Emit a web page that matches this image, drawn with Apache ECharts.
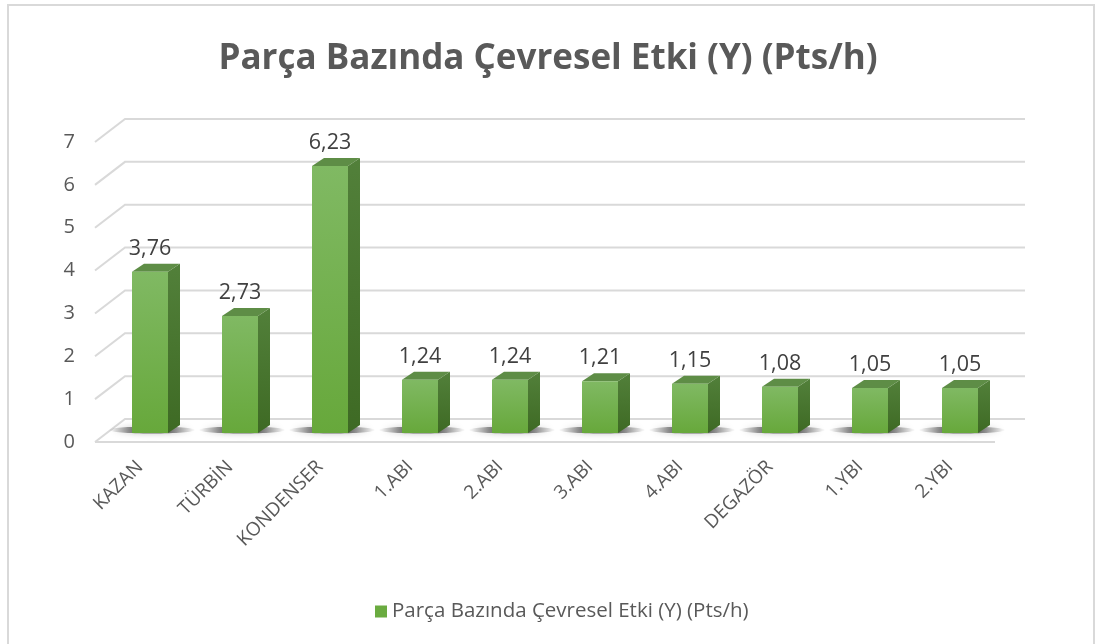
<!DOCTYPE html>
<html>
<head>
<meta charset="utf-8">
<script src="https://cdn.jsdelivr.net/npm/echarts@6/dist/echarts.min.js"></script>
<style>
  html, body { margin: 0; padding: 0; background: #fff; }
  #chart { width: 1096px; height: 644px; }
</style>
</head>
<body>
<div id="chart"></div>
<script>
const categories = ["KAZAN", "TÜRBİN", "KONDENSER", "1.ABI", "2.ABI", "3.ABI", "4.ABI", "DEGAZÖR", "1.YBI", "2.YBI"];
const values = [3.76, 2.73, 6.23, 1.24, 1.24, 1.21, 1.15, 1.08, 1.05, 1.05];
const yTicks = [0, 1, 2, 3, 4, 5, 6, 7];
const seriesName = "Parça Bazında Çevresel Etki (Y) (Pts/h)";

const FONT = "'Open Sans', 'Noto Sans', sans-serif";

// perspective offsets (pixels) from the front plane
const WALL_DX = 30, WALL_DY = -23;   // back wall
const BAR_DX = 10, BAR_DY = -9;      // bar front face
const SIDE_DX = 12, SIDE_DY = -8;    // bar depth

const chart = echarts.init(document.getElementById("chart"));

function fmt(v) {
  return v.toFixed(2).replace(".", ",");
}

const option = {
  animation: false,
  backgroundColor: "#fff",
  title: {
    text: "Parça Bazında Çevresel Etki (Y) (Pts/h)",
    left: "center",
    top: 37,
    textStyle: {
      fontFamily: FONT,
      fontSize: 35,
      fontWeight: "bold",
      color: "#595959",
    },
  },
  legend: {
    top: 596,
    left: 370,
    icon: "rect",
    itemWidth: 12,
    itemHeight: 12,
    itemGap: 8,
    textStyle: {
      fontFamily: FONT,
      fontSize: 20.5,
      color: "#595959",
    },
    data: [seriesName],
  },
  graphic: [
    {
      type: "rect",
      shape: { x: 8, y: 5, width: 1086, height: 660 },
      style: { fill: "none", stroke: "#d9d9d9", lineWidth: 2 },
      silent: true,
    },
  ],
  grid: {
    left: 95,
    right: 101,
    top: 142,
    bottom: 202,
    containLabel: false,
  },
  xAxis: {
    type: "category",
    data: categories,
    axisLine: { show: false },
    axisTick: { show: false },
    axisLabel: {
      rotate: 45,
      margin: 22,
      interval: 0,
      fontFamily: FONT,
      fontSize: 19,
      color: "#595959",
    },
  },
  yAxis: {
    type: "value",
    min: 0,
    max: 7,
    interval: 1,
    axisLine: { show: false },
    axisTick: { show: false },
    splitLine: { show: false },
    axisLabel: {
      margin: 20,
      fontFamily: FONT,
      fontSize: 20,
      color: "#595959",
    },
  },
  series: [
    {
      // side wall + back wall gridlines
      type: "custom",
      silent: true,
      z: 1,
      data: yTicks,
      encode: { y: 0 },
      renderItem: (params, api) => {
        const cs = params.coordSys;
        const y = api.coord([0, api.value(0)])[1];
        const x0 = cs.x;
        const x1 = cs.x + cs.width;
        const children = [
          {
            type: "polyline",
            shape: {
              points: [
                [x0, y],
                [x0 + WALL_DX, y + WALL_DY],
                [x1 + WALL_DX, y + WALL_DY],
              ],
            },
            style: { stroke: "#d9d9d9", lineWidth: 2, fill: null },
          },
        ];
        if (api.value(0) === 0) {
          // floor front edge
          children.push({
            type: "line",
            shape: { x1: x0, y1: y, x2: x1, y2: y },
            style: { stroke: "#d9d9d9", lineWidth: 2 },
          });
        }
        return { type: "group", children };
      },
    },
    {
      name: seriesName,
      type: "custom",
      z: 3,
      itemStyle: { color: "#6aab40" },
      data: values.map((v, i) => [i, v]),
      renderItem: (params, api) => {
        const top = api.coord([api.value(0), api.value(1)]);
        const base = api.coord([api.value(0), 0]);
        const band = api.size([1, 0])[0];
        const w = band * 0.4;
        const xl = top[0] - w / 2 + BAR_DX;
        const xr = top[0] + w / 2 + BAR_DX;
        const yt = top[1] + BAR_DY;
        const yb = base[1] + BAR_DY;
        const cx = (xl + xr) / 2;
        return {
          type: "group",
          children: [
            {
              // floor shadow
              type: "ellipse",
              shape: { cx: cx + 2, cy: yb - 3, rx: w * 1.2, ry: 3.5 },
              style: {
                fill: new echarts.graphic.LinearGradient(0, 0, 1, 0, [
                  { offset: 0, color: "rgba(0,0,0,0)" },
                  { offset: 0.3, color: "rgba(0,0,0,0.5)" },
                  { offset: 0.7, color: "rgba(0,0,0,0.5)" },
                  { offset: 1, color: "rgba(0,0,0,0)" },
                ]),
                shadowBlur: 6,
                shadowColor: "rgba(0,0,0,0.45)",
              },
            },
            {
              // side face
              type: "polygon",
              shape: {
                points: [
                  [xr, yt],
                  [xr + SIDE_DX, yt + SIDE_DY],
                  [xr + SIDE_DX, yb + SIDE_DY],
                  [xr, yb],
                ],
              },
              style: {
                fill: new echarts.graphic.LinearGradient(0, 0, 0, 1, [
                  { offset: 0, color: "#52803a" },
                  { offset: 1, color: "#3e6a24" },
                ]),
              },
            },
            {
              // top face
              type: "polygon",
              shape: {
                points: [
                  [xl, yt],
                  [xl + SIDE_DX, yt + SIDE_DY],
                  [xr + SIDE_DX, yt + SIDE_DY],
                  [xr, yt],
                ],
              },
              style: { fill: "#5e8d46" },
            },
            {
              // front face
              type: "rect",
              shape: { x: xl, y: yt, width: w, height: yb - yt },
              style: {
                fill: new echarts.graphic.LinearGradient(0, 0, 0, 1, [
                  { offset: 0, color: "#80b963" },
                  { offset: 1, color: "#67a83b" },
                ]),
              },
            },
            {
              type: "text",
              style: {
                x: cx,
                y: yt + SIDE_DY - 4,
                text: fmt(api.value(1)),
                align: "center",
                verticalAlign: "bottom",
                fontFamily: FONT,
                fontSize: 21.5,
                fill: "#404040",
              },
            },
          ],
        };
      },
    },
  ],
};

chart.setOption(option);
</script>
</body>
</html>
